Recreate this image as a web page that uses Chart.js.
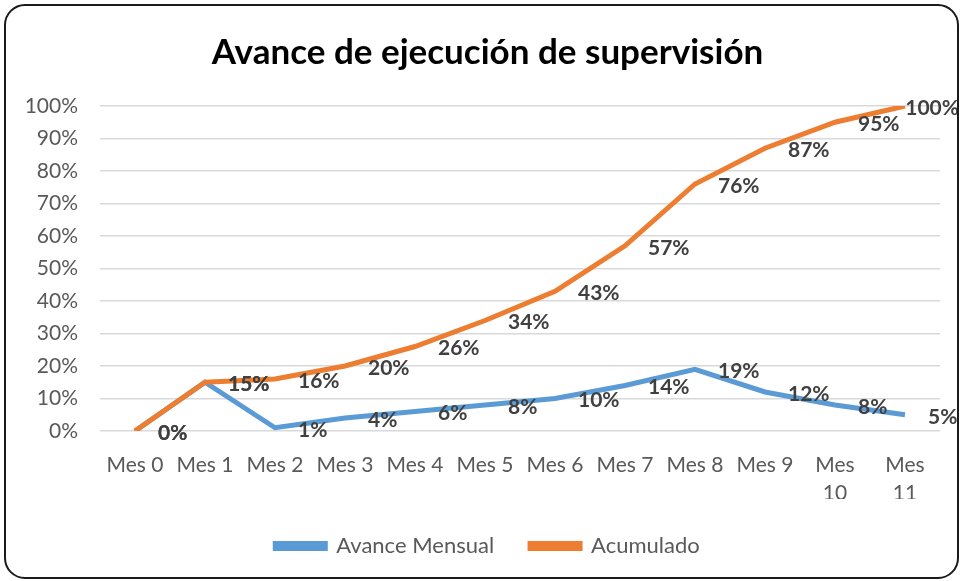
<!DOCTYPE html>
<html>
<head>
<meta charset="utf-8">
<script src="https://cdn.jsdelivr.net/npm/chart.js@4/dist/chart.umd.min.js"></script>
<style>
  html, body { margin: 0; padding: 0; background: #fff; }
  #wrap { width: 963px; height: 581px; position: relative; }
</style>
</head>
<body>
<div id="wrap"><canvas id="chart" width="963" height="581"></canvas></div>
<script>
const months = ['Mes 0', 'Mes 1', 'Mes 2', 'Mes 3', 'Mes 4', 'Mes 5', 'Mes 6', 'Mes 7', 'Mes 8', 'Mes 9', 'Mes 10', 'Mes 11'];
const avanceMensual = [0, 15, 1, 4, 6, 8, 10, 14, 19, 12, 8, 5];
const acumulado = [0, 15, 16, 20, 26, 34, 43, 57, 76, 87, 95, 100];
const yTicks = [0, 10, 20, 30, 40, 50, 60, 70, 80, 90, 100];

const FONT = 'Lato, "Open Sans", sans-serif';

// rounded frame around the whole chart
const framePlugin = {
  id: 'frame',
  afterDraw(chart) {
    const ctx = chart.ctx;
    ctx.save();
    ctx.strokeStyle = '#1a1a1a';
    ctx.lineWidth = 2;
    ctx.beginPath();
    ctx.roundRect(5, 5, chart.width - 10, chart.height - 8, 20);
    ctx.stroke();
    ctx.restore();
  }
};

// value labels to the right of each point
const labelPlugin = {
  id: 'valueLabels',
  afterDatasetsDraw(chart) {
    const ctx = chart.ctx;
    ctx.save();
    ctx.font = 'bold 21px ' + FONT;
    ctx.fillStyle = '#404040';
    ctx.textBaseline = 'middle';
    ctx.textAlign = 'left';
    chart.data.datasets.forEach((ds, i) => {
      const meta = chart.getDatasetMeta(i);
      meta.data.forEach((pt, j) => {
        const v = ds.data[j];
        if (v === null || v === undefined) return;
        const txt = Math.round(v) + '%';
        const w = ctx.measureText(txt).width;
        let x = pt.x + 23;
        if (x + w > chart.width - 4) x = chart.width - 4 - w;
        ctx.fillText(txt, x, pt.y + 2);
      });
    });
    ctx.restore();
  }
};

new Chart(document.getElementById('chart'), {
  type: 'line',
  data: {
    labels: months,
    datasets: [
      {
        label: 'Avance Mensual',
        data: avanceMensual,
        borderColor: '#5B9BD5',
        backgroundColor: '#5B9BD5',
        borderWidth: 5,
        pointRadius: 0,
        tension: 0,
        order: 2
      },
      {
        label: 'Acumulado',
        data: acumulado,
        borderColor: '#ED7D31',
        backgroundColor: '#ED7D31',
        borderWidth: 5,
        pointRadius: 0,
        tension: 0,
        order: 1
      }
    ]
  },
  options: {
    responsive: false,
    animation: false,
    layout: { padding: { left: 12, right: 0, top: 0, bottom: 14 } },
    plugins: {
      title: {
        display: true,
        text: 'Avance de ejecución de supervisión',
        color: '#000',
        font: { family: FONT, size: 35, weight: 'bold' },
        padding: { top: 32, bottom: 32 }
      },
      legend: {
        position: 'bottom',
        labels: {
          color: '#595959',
          font: { family: FONT, size: 22 },
          boxWidth: 50,
          boxHeight: 5,
          padding: 36,
          sort: (a, b) => a.datasetIndex - b.datasetIndex
        }
      },
      tooltip: { enabled: false }
    },
    scales: {
      x: {
        offset: true,
        grid: { display: false, drawTicks: false },
        border: { display: false },
        ticks: {
          color: '#595959',
          font: { family: FONT, size: 21, lineHeight: 1.3 },
          padding: 21,
          maxRotation: 0,
          autoSkip: false,
          callback: function (value) {
            const lbl = this.getLabelForValue(value);
            return lbl.length > 5 ? lbl.split(' ') : lbl;
          }
        },
        afterFit(scale) { scale.height = 68; }
      },
      y: {
        min: 0,
        max: 100,
        afterBuildTicks(scale) { scale.ticks = yTicks.map(v => ({ value: v })); },
        grid: { color: '#d9d9d9', lineWidth: 1.5, drawTicks: false },
        border: { display: false },
        ticks: {
          color: '#595959',
          font: { family: FONT, size: 21 },
          padding: 22,
          callback: v => v + '%'
        },
        afterFit(scale) { scale.width = 88; }
      },
      // empty right-hand axis, only keeps the plot clear of the right frame
      yRight: {
        position: 'right',
        grid: { display: false, drawTicks: false },
        border: { display: false },
        ticks: { display: false },
        afterFit(scale) { scale.width = 23; }
      }
    }
  },
  plugins: [framePlugin, labelPlugin]
});
</script>
</body>
</html>
